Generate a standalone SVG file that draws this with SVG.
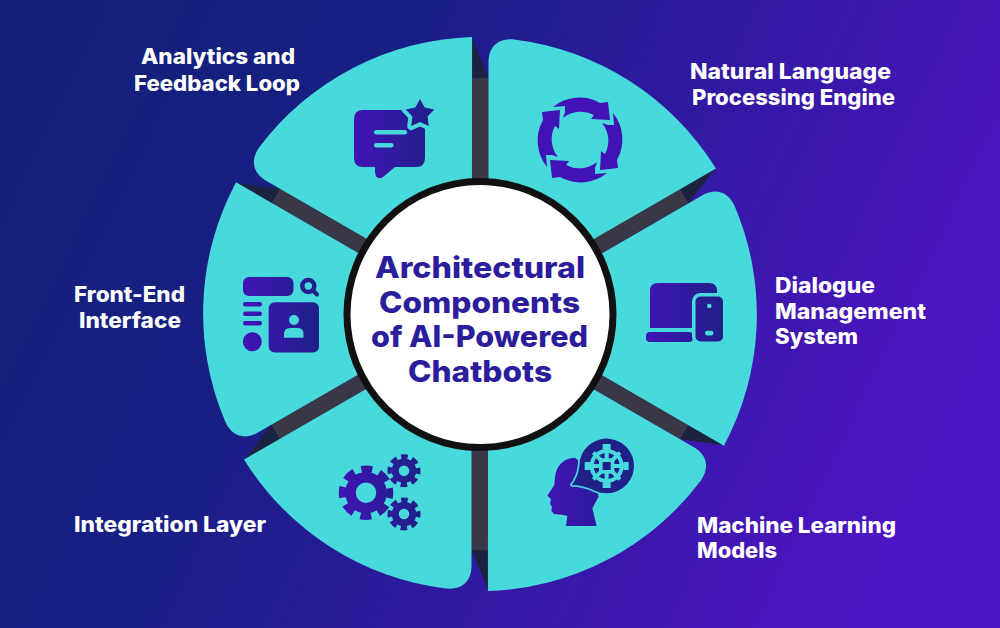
<svg xmlns="http://www.w3.org/2000/svg" xmlns:xlink="http://www.w3.org/1999/xlink" width="1000" height="628" viewBox="0 0 1000 628">
<defs>
<linearGradient id="bg" x1="0" y1="0.25" x2="1" y2="0.55">
<stop offset="0" stop-color="#14217a"/><stop offset="0.3" stop-color="#171f84"/><stop offset="0.6" stop-color="#3019a0"/><stop offset="1" stop-color="#4f14c4"/>
</linearGradient>
<linearGradient id="g1" gradientUnits="userSpaceOnUse" x1="354" y1="0" x2="435" y2="0"><stop offset="0" stop-color="#4113b6"/><stop offset="1" stop-color="#1f2088"/></linearGradient>
<linearGradient id="g2" gradientUnits="userSpaceOnUse" x1="538" y1="180" x2="622" y2="100"><stop offset="0" stop-color="#4113b6"/><stop offset="1" stop-color="#1f2088"/></linearGradient>
<linearGradient id="g3" gradientUnits="userSpaceOnUse" x1="243" y1="0" x2="320" y2="0"><stop offset="0" stop-color="#4113b6"/><stop offset="1" stop-color="#1f2088"/></linearGradient>
<linearGradient id="g4" gradientUnits="userSpaceOnUse" x1="646" y1="0" x2="723" y2="0"><stop offset="0" stop-color="#4113b6"/><stop offset="1" stop-color="#1f2088"/></linearGradient>
<linearGradient id="g5" gradientUnits="userSpaceOnUse" x1="650" y1="0" x2="915" y2="0"><stop offset="0" stop-color="#4113b6"/><stop offset="1" stop-color="#1f2088"/></linearGradient>
<linearGradient id="g6" gradientUnits="userSpaceOnUse" x1="339" y1="0" x2="420" y2="0"><stop offset="0" stop-color="#4113b6"/><stop offset="1" stop-color="#1f2088"/></linearGradient>
<path id="wedge" d="M488.500,62 C488.500,47 498,38 514,39.500 A277,277 0 0 1 716,168.600 L562.600,257 L488.500,214 Z"/>
<g id="spoke"><rect x="471.500" y="78" width="17" height="110" fill="#393847"/><path d="M471.500,37 L488.500,78 L471.500,78 Z" fill="#1c2340"/></g>
<path id="arrow" d="M-27,-33 A42,42 0 0 1 20,-37 L28,-38 L30,-20 L11,-21 L14,-25 A28,28 0 0 0 -17,-22 L-15,-28 L-15,-34 Z"/>
</defs>
<style>
.w{fill:#47d9dc}
.lb{font-family:"Inter","Liberation Sans",sans-serif;font-weight:800;font-size:21px;fill:#fff}
.t{font-family:"Inter","Liberation Sans",sans-serif;font-weight:800;font-size:29.500px;fill:#2b1d9c}
.tl{fill:#47d9dc}
</style>
<rect width="1000" height="628" fill="url(#bg)"/>
<g id="connectors">
<use href="#spoke"/>
<use href="#spoke" transform="rotate(60 480 314)"/>
<use href="#spoke" transform="rotate(120 480 314)"/>
<use href="#spoke" transform="rotate(180 480 314)"/>
<use href="#spoke" transform="rotate(240 480 314)"/>
<use href="#spoke" transform="rotate(300 480 314)"/>
</g>
<g id="node-nlp">
<use href="#wedge" class="w"/>
<g fill="url(#g2)" transform="translate(580 140)">
<use href="#arrow"/><use href="#arrow" transform="rotate(90)"/><use href="#arrow" transform="rotate(180)"/><use href="#arrow" transform="rotate(270)"/>
</g>
<text class="lb" x="690" y="79" textLength="201" lengthAdjust="spacingAndGlyphs">Natural Language</text>
<text class="lb" x="692" y="105" textLength="203" lengthAdjust="spacingAndGlyphs">Processing Engine</text>
</g>
<g id="node-dialogue">
<use href="#wedge" class="w" transform="rotate(60 480 314)"/>
<path d="M650,328 L650,291 Q650,283 658,283 L709,283 Q717,283 717,291 L717,328 Z" fill="url(#g4)"/>
<rect x="646" y="332" width="47" height="10" rx="4" fill="url(#g4)"/>
<rect x="695.500" y="296.500" width="27.500" height="45" rx="5" fill="url(#g4)" stroke="#47d9dc" stroke-width="7" paint-order="stroke"/>
<circle cx="709.300" cy="306" r="2.300" class="tl"/>
<rect x="705" y="330.700" width="8.500" height="4.700" rx="2.300" class="tl"/>
<text class="lb" x="775" y="293" textLength="100" lengthAdjust="spacingAndGlyphs">Dialogue</text>
<text class="lb" x="775" y="319" textLength="151" lengthAdjust="spacingAndGlyphs">Management</text>
<text class="lb" x="775" y="344" textLength="83" lengthAdjust="spacingAndGlyphs">System</text>
</g>
<g id="node-ml">
<use href="#wedge" class="w" transform="rotate(120 480 314)"/>
<g transform="translate(330 430) scale(.33333)">
<path d="M735,83 C700,85 680,105 675,140 L673,165 L652,197 L663,207 L660,222 L666,230 L664,243 L672,252 L700,255 L712,258 L708,288 L800,288 L787,235 L806,200 L790,130 Z" fill="url(#g5)"/>
<path d="M748,108 A82,82 0 1 1 795,182 Q760,165 725,165 Q745,140 748,108 Z" fill="#1f2088" stroke="#47d9dc" stroke-width="10" paint-order="stroke" stroke-linejoin="round"/>
<g fill="none" stroke="#47d9dc" stroke-width="12">
<circle cx="830" cy="108" r="45"/>
<path d="M830,108 V52 M830,108 V164 M830,108 H774 M830,108 H886 M830,108 L790,68 M830,108 L870,68 M830,108 L790,148 M830,108 L870,148"/>
</g>
<g fill="#47d9dc">
<rect x="807" y="85" width="46" height="46"/>
<rect x="818" y="42" width="24" height="16"/><rect x="818" y="158" width="24" height="16"/><rect x="764" y="96" width="16" height="24"/><rect x="880" y="96" width="16" height="24"/>
</g>
<rect x="818" y="96" width="24" height="24" fill="#1f2088"/>
</g>
<text class="lb" x="697" y="533" textLength="199" lengthAdjust="spacingAndGlyphs">Machine Learning</text>
<text class="lb" x="697" y="558" textLength="80" lengthAdjust="spacingAndGlyphs">Models</text>
</g>
<g id="node-integration">
<use href="#wedge" class="w" transform="rotate(180 480 314)"/>
<g fill="none" stroke="url(#g6)">
<circle cx="366" cy="492.700" r="15.500" stroke-width="10.500"/>
<circle cx="366" cy="492.700" r="23.500" stroke-width="7.500" stroke-dasharray="11 7.460" stroke-dashoffset="5.500"/>
<circle cx="404" cy="470.700" r="8.750" stroke-width="7"/>
<circle cx="404" cy="470.700" r="13.750" stroke-width="5.500" stroke-dasharray="6.500 4.300" stroke-dashoffset="3.250"/>
<circle cx="404" cy="514" r="8.750" stroke-width="7"/>
<circle cx="404" cy="514" r="13.750" stroke-width="5.500" stroke-dasharray="6.500 4.300" stroke-dashoffset="3.250"/>
</g>
<text class="lb" x="74" y="532" textLength="192" lengthAdjust="spacingAndGlyphs">Integration Layer</text>
</g>
<g id="node-frontend">
<use href="#wedge" class="w" transform="rotate(240 480 314)"/>
<g fill="url(#g3)">
<rect x="243" y="277" width="50.500" height="19" rx="6"/>
<rect x="243" y="302" width="19" height="4.500" rx="2.200"/>
<rect x="243" y="311.500" width="19" height="4.500" rx="2.200"/>
<rect x="243" y="321" width="19" height="4.500" rx="2.200"/>
<circle cx="252.300" cy="341.700" r="9.500"/>
<rect x="268.700" y="302.300" width="50.300" height="50.300" rx="6"/>
</g>
<circle cx="308.300" cy="286" r="6" fill="none" stroke="url(#g3)" stroke-width="4.500"/>
<path d="M312.500,290 L317,294.500" fill="none" stroke="#1f2088" stroke-width="4" stroke-linecap="round"/>
<circle cx="294" cy="320" r="5" class="tl"/>
<path d="M284,337.700 L284,334 Q284,328 290,328 L298,328 Q303.500,328 303.500,334 L303.500,337.700 Z" class="tl"/>
<text class="lb" x="74" y="302" textLength="111" lengthAdjust="spacingAndGlyphs">Front-End</text>
<text class="lb" x="79" y="328" textLength="102" lengthAdjust="spacingAndGlyphs">Interface</text>
</g>
<g id="node-analytics">
<use href="#wedge" class="w" transform="rotate(300 480 314)"/>
<path d="M363,110 L416,110 Q425,110 425,119 L425,158 Q425,167 416,167 L395,167 L383,177 Q376,181 375,172 L375,167 L363,167 Q354,167 354,158 L354,119 Q354,110 363,110 Z" fill="url(#g1)"/>
<path d="M420,99 L424.700,107.500 L434.300,109.400 L427.600,116.500 L428.800,126.100 L420,122 L411.200,126.100 L412.400,116.500 L405.700,109.400 L415.300,107.500 Z" fill="url(#g1)" stroke="#47d9dc" stroke-width="8" stroke-linejoin="round" paint-order="stroke"/>
<rect x="374" y="130" width="33" height="4.500" rx="2.200" class="tl"/>
<rect x="374" y="143" width="19.500" height="4.500" rx="2.200" class="tl"/>
<text class="lb" x="141" y="64" textLength="154" lengthAdjust="spacingAndGlyphs">Analytics and</text>
<text class="lb" x="134" y="91" textLength="166" lengthAdjust="spacingAndGlyphs">Feedback Loop</text>
</g>
<g id="node-center">
<circle cx="480" cy="314.500" r="133" fill="#fff" stroke="#111" stroke-width="7"/>
<text class="t" x="375" y="278" textLength="210" lengthAdjust="spacingAndGlyphs">Architectural</text>
<text class="t" x="379" y="313" textLength="201" lengthAdjust="spacingAndGlyphs">Components</text>
<text class="t" x="371" y="347" textLength="217" lengthAdjust="spacingAndGlyphs">of AI-Powered</text>
<text class="t" x="408" y="382" textLength="144" lengthAdjust="spacingAndGlyphs">Chatbots</text>
</g>
</svg>
